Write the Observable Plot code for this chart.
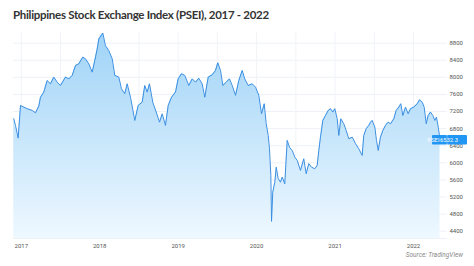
<!DOCTYPE html>
<html><head><meta charset="utf-8">
<script src="https://cdn.jsdelivr.net/npm/d3@7"></script>
<script src="https://cdn.jsdelivr.net/npm/@observablehq/plot@0.6"></script>
<style>
body{margin:0;background:#fff;}
#wrap{position:relative;width:474px;height:266px;overflow:hidden;}
#chart{position:absolute;left:0;top:0;}
#title{position:absolute;left:13px;top:8px;font-family:Lato,sans-serif;font-weight:700;font-size:11.5px;letter-spacing:-0.3px;color:#333;white-space:nowrap;}
#source{position:absolute;right:11px;top:251px;font-family:Roboto,sans-serif;font-style:italic;font-size:6.5px;color:#8a8a8a;white-space:nowrap;}
</style></head><body>
<div id="wrap"><div id="chart"></div>
<div id="title">Philippines Stock Exchange Index (PSEI), 2017 - 2022</div>
<div id="source">Source: TradingView</div></div>
<script>
// decimal-year dates
const dates = [2016.904,2016.926,2016.960,2016.990,2017.032,2017.075,2017.139,2017.181,2017.223,2017.245,2017.287,2017.330,2017.372,2017.414,2017.458,2017.500,2017.563,2017.606,2017.649,2017.691,2017.733,2017.784,2017.818,2017.861,2017.904,2017.937,2017.968,2017.988,2018.039,2018.073,2018.115,2018.159,2018.192,2018.243,2018.277,2018.319,2018.350,2018.392,2018.447,2018.490,2018.541,2018.574,2018.605,2018.634,2018.676,2018.720,2018.762,2018.796,2018.838,2018.873,2018.915,2018.966,2019.000,2019.042,2019.084,2019.135,2019.179,2019.221,2019.263,2019.306,2019.339,2019.383,2019.434,2019.476,2019.505,2019.540,2019.569,2019.612,2019.654,2019.689,2019.731,2019.773,2019.816,2019.849,2019.893,2019.944,2019.986,2020.028,2020.062,2020.097,2020.122,2020.148,2020.164,2020.181,2020.190,2020.206,2020.232,2020.250,2020.275,2020.304,2020.326,2020.359,2020.390,2020.419,2020.454,2020.487,2020.517,2020.559,2020.601,2020.632,2020.665,2020.700,2020.742,2020.772,2020.793,2020.814,2020.844,2020.878,2020.913,2020.942,2020.971,2020.997,2021.027,2021.048,2021.073,2021.111,2021.142,2021.175,2021.219,2021.261,2021.303,2021.346,2021.366,2021.397,2021.430,2021.452,2021.473,2021.507,2021.528,2021.550,2021.579,2021.609,2021.643,2021.677,2021.707,2021.749,2021.779,2021.813,2021.838,2021.864,2021.898,2021.932,2021.962,2022.004,2022.047,2022.077,2022.111,2022.136,2022.162,2022.187,2022.217,2022.246,2022.272,2022.293,2022.315,2022.331,2022.338];
const psei = [7031,6875,6578,7343,7304,7267,7227,7170,7327,7535,7655,7926,7850,8007,7887,7810,8007,7965,8046,8277,8317,8473,8435,8317,8122,8396,8667,8899,9038,8744,8628,8435,8046,8007,7734,7618,7850,7535,6992,7343,7420,7810,7655,7850,7420,7188,6952,7147,6876,7343,7535,7655,7965,8085,8046,7810,7965,7887,7979,7850,7535,8007,8062,8162,8343,8162,7810,7887,7965,7810,7579,7926,8162,7965,7810,7850,7771,7579,7147,7383,6915,6640,6328,5706,4630,5315,5547,5898,5629,5547,5667,5509,6525,6365,6289,6133,6057,5822,6096,5745,5981,5898,5861,5938,6289,6601,6992,7108,7227,7267,7188,7267,7031,6640,7031,6915,6756,6564,6601,6448,6328,6173,6640,6800,6876,6952,6992,6837,6525,6289,6601,6756,6876,6952,6915,7031,7227,7304,7383,7108,7304,7147,7267,7304,7383,7475,7420,7304,6915,7108,7188,7108,6992,7069,6837,6640,6532.3];
const yTicks = [4400,4800,5200,5600,6000,6400,6800,7200,7600,8000,8400,8800];
const xTicks = [2017,2018,2019,2020,2021,2022];
const xGrid = [2017,2017.5,2018,2018.5,2019,2019.5,2020,2020.5,2021,2021.5,2022];
const seriesName = "PSEI";
const xDomain = [2016.9006, 2022.4334];
const yDomain = [4229, 9050];

const data = dates.map((t,i)=>({t, v: psei[i]}));
const last = data[data.length-1];

const plot = Plot.plot({
  width:474, height:266,
  marginTop:32, marginBottom:28, marginLeft:13, marginRight:27,
  style:{fontFamily:"Roboto, sans-serif", fontSize:"6px", color:"#555", background:"transparent"},
  x:{type:"linear", domain:xDomain, ticks:xTicks, tickFormat:d=>String(d), tickSize:0, tickPadding:5, label:null},
  y:{domain:yDomain, ticks:yTicks, tickFormat:d=>String(d), tickSize:0, tickPadding:2, label:null, axis:"right"},
  marks:[
    Plot.ruleY(yTicks,{stroke:"#eef1f6"}),
    Plot.ruleX(xGrid,{stroke:"#f1f3f8"}),
    Plot.ruleY([yDomain[0]],{stroke:"#eef1f6"}),
    Plot.areaY(data,{x:"t", y1:yDomain[0], y2:"v", fill:"url(#psei-grad)"}),
    Plot.lineY(data,{x:"t", y:"v", stroke:"#3b8fe2", strokeWidth:1})
  ]
});
document.getElementById("chart").appendChild(plot);

const svg = d3.select(plot);
svg.insert("defs",":first-child").html(
 '<linearGradient id="psei-grad" x1="0" y1="0" x2="0" y2="1">'+
 '<stop offset="0" stop-color="#9fd3f7"/><stop offset="1" stop-color="#eef8ff"/></linearGradient>');

// last-price tag on the price axis
const ys = plot.scale("y");
const yy = ys.apply(last.v);
const right = 474 - 27;
const g = svg.append("g").attr("font-family","Roboto, sans-serif").attr("font-size","5.8px").attr("fill","#fff");
g.append("rect").attr("x", right-15).attr("y", yy-4.5).attr("width", 15).attr("height", 9.5).attr("fill", "#2196f3").attr("rx",1);
g.append("rect").attr("x", right).attr("y", yy-4.5).attr("width", 20).attr("height", 9.5).attr("fill", "#2196f3").attr("rx",1);
g.append("line").attr("x1", right).attr("x2", right).attr("y1", yy-4.5).attr("y2", yy+5).attr("stroke","#8cc8f8").attr("stroke-width",0.6);
g.append("text").attr("x", right-13.5).attr("y", yy).attr("dy","0.34em").text(seriesName);
g.append("text").attr("x", right+2).attr("y", yy).attr("dy","0.34em").text(d3.format(".1f")(last.v));
</script>
</body></html>
